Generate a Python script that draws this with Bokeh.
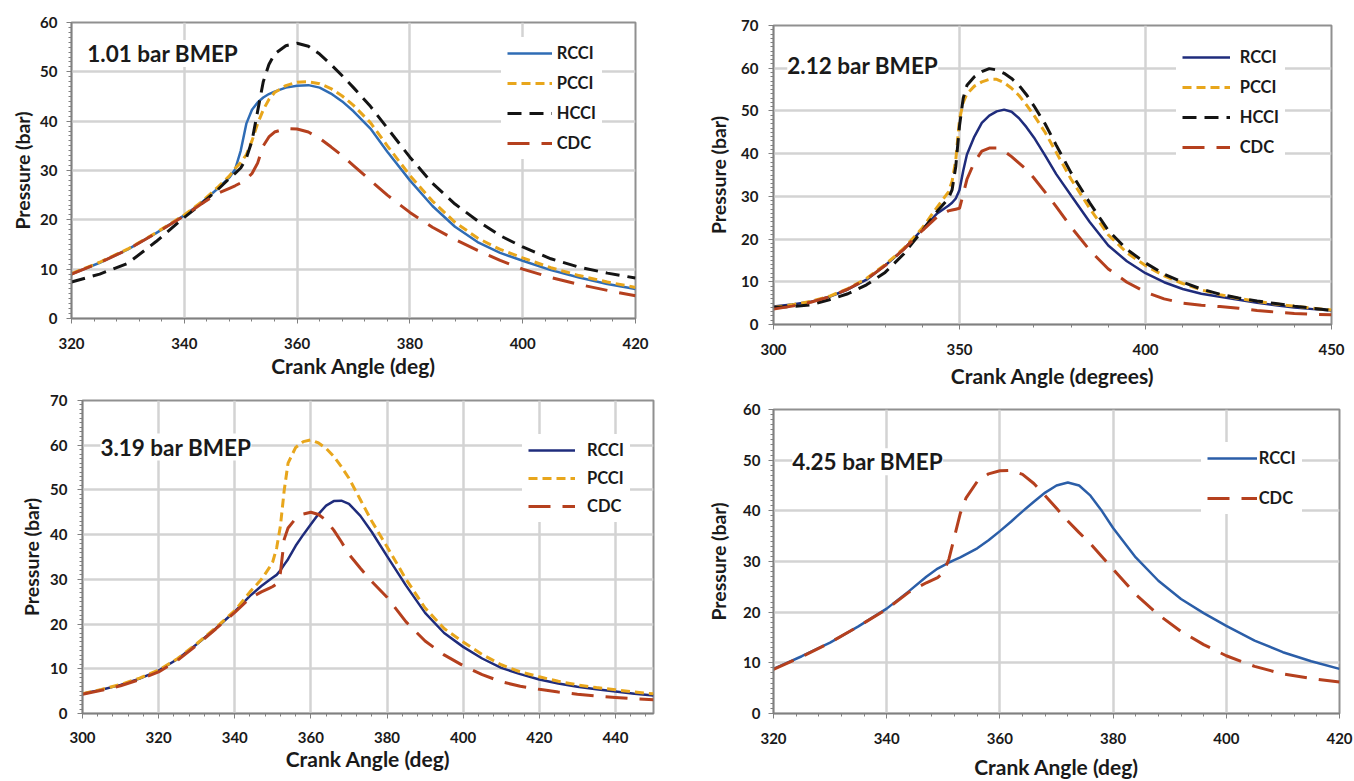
from bokeh.plotting import figure
from bokeh.layouts import row, column
from bokeh.models import SingleIntervalTicker, Legend, LegendItem, Label, Range1d
from bokeh.embed import file_html
from bokeh.resources import INLINE

# ---------------- data ----------------
# Panel 1: 1.01 bar BMEP
p1_angle = [320, 325, 330, 335, 340, 343, 346, 348, 349, 350, 351, 352, 353, 354, 355,
            356, 358, 360, 362, 364, 366, 368, 370, 373, 376, 380, 384, 388, 392, 396,
            400, 405, 410, 415, 420]
p1_rcci = [9.0, 11.3, 14.0, 17.3, 20.9, 23.4, 26.4, 28.6, 30.2, 34.0, 39.5, 42.3, 43.8, 44.8, 45.5,
           46.0, 46.8, 47.2, 47.3, 46.8, 45.6, 44.0, 42.0, 38.5, 33.8, 28.0, 22.8, 18.6, 15.5, 13.3,
           11.7, 9.8, 8.3, 7.0, 6.0]
p1_pcci = [9.1, 11.4, 14.1, 17.4, 21.0, 23.6, 26.7, 28.9, 30.4, 31.6, 33.2, 36.0, 39.5, 42.3, 44.4,
           45.8, 47.2, 47.9, 48.0, 47.6, 46.6, 45.1, 43.2, 39.7, 35.0, 29.0, 23.8, 19.5, 16.3, 14.0,
           12.3, 10.3, 8.7, 7.4, 6.3]
p1_hcci = [7.4, 9.0, 11.2, 15.6, 20.5, 23.2, 26.2, 28.4, 29.4, 30.5, 32.5, 36.0, 42.0, 48.0, 51.5,
           53.6, 55.3, 55.8, 55.2, 53.6, 51.5, 49.2, 46.8, 43.0, 38.6, 32.7, 27.4, 23.2, 19.8, 16.8,
           14.5, 12.1, 10.4, 9.2, 8.2]
p1_cdc = [9.0, 11.3, 14.0, 17.3, 20.8, 23.2, 25.4, 26.4, 26.9, 27.5, 28.2, 29.4, 31.5, 35.0, 36.8,
          37.8, 38.5, 38.4, 37.8, 36.5, 34.8, 33.0, 31.0, 28.0, 25.0, 21.5, 18.5, 16.0, 13.8, 11.8,
          10.0, 8.3, 6.9, 5.7, 4.6]

# Panel 2: 2.12 bar BMEP
p2_angle = [300, 305, 310, 315, 320, 325, 330, 335, 340, 344, 347, 348, 349, 350, 351,
            352, 354, 356, 358, 360, 362, 364, 366, 368, 370, 373, 376, 380, 385, 390,
            395, 400, 405, 410, 415, 420, 425, 430, 435, 440, 445, 450]
p2_rcci = [4.2, 4.7, 5.3, 6.5, 8.2, 10.5, 13.8, 17.6, 22.3, 26.0, 27.8, 28.5, 29.5, 31.5, 36.0,
           39.8, 44.0, 47.2, 48.9, 49.9, 50.3, 49.8, 48.3, 46.2, 43.8, 39.6, 35.2, 30.2, 24.0, 18.5,
           14.8, 12.0, 9.9, 8.3, 7.2, 6.5, 5.8, 5.1, 4.5, 4.0, 3.6, 3.3]
p2_pcci = [4.0, 4.6, 5.4, 6.6, 8.4, 10.8, 14.0, 17.8, 22.6, 27.5, 31.0, 33.5, 38.5, 48.0, 52.0,
           54.0, 55.8, 56.8, 57.4, 57.4, 56.6, 55.3, 53.6, 51.4, 49.0, 45.0, 40.3, 34.0, 27.2, 21.0,
           16.8, 13.8, 11.4, 9.6, 8.1, 7.0, 6.1, 5.4, 4.8, 4.3, 3.8, 3.4]
p2_hcci = [4.0, 4.2, 4.6, 5.8, 7.2, 9.3, 12.2, 16.5, 22.0, 26.5, 29.5, 31.5, 37.0, 46.5, 53.0,
           56.0, 58.0, 59.2, 59.9, 59.6, 58.8, 57.6, 56.0, 53.8, 51.2, 47.0, 42.0, 35.5, 28.5, 22.0,
           17.6, 14.4, 11.8, 9.9, 8.3, 7.1, 6.2, 5.5, 4.9, 4.3, 3.8, 3.3]
p2_cdc = [3.6, 4.3, 5.2, 6.5, 8.3, 10.6, 13.8, 17.6, 22.0, 25.2, 26.6, 26.8, 27.0, 27.2, 30.5,
          34.0, 38.0, 40.6, 41.3, 41.3, 40.6, 39.3, 37.8, 36.3, 34.3, 31.0, 27.6, 22.8, 17.4, 13.0,
          9.9, 7.6, 6.0, 5.0, 4.5, 4.2, 3.8, 3.3, 2.9, 2.6, 2.4, 2.3]

# Panel 3: 3.19 bar BMEP
p3_angle = [300, 305, 310, 315, 320, 325, 330, 335, 340, 344, 347, 349, 350, 351, 352,
            353, 354, 356, 358, 360, 362, 364, 366, 368, 370, 373, 376, 380, 385, 390,
            395, 400, 405, 410, 415, 420, 425, 430, 435, 440, 445, 450]
p3_rcci = [4.4, 5.3, 6.4, 7.8, 9.6, 12.2, 15.5, 19.0, 22.8, 26.3, 28.5, 29.8, 30.4, 31.0, 32.0,
           33.3, 34.5, 37.5, 40.0, 42.3, 44.6, 46.5, 47.5, 47.6, 46.9, 44.2, 40.6, 35.2, 28.6, 22.5,
           18.0, 14.9, 12.3, 10.2, 8.8, 7.6, 6.7, 6.0, 5.4, 4.9, 4.4, 4.0]
p3_pcci = [4.4, 5.4, 6.5, 7.9, 9.7, 12.3, 15.6, 19.2, 23.0, 27.2, 30.0, 32.5, 34.0, 37.0, 42.0,
           50.0, 56.0, 59.5, 60.8, 61.2, 60.5, 59.3, 57.5, 55.2, 52.6, 47.8, 43.0, 37.3, 30.0, 23.6,
           19.0, 16.0, 13.2, 10.9, 9.3, 8.2, 7.2, 6.4, 5.8, 5.3, 4.8, 4.4]
p3_cdc = [4.3, 5.2, 6.2, 7.6, 9.3, 11.9, 15.3, 18.9, 22.6, 25.8, 27.2, 28.0, 28.4, 29.0, 31.5,
          39.0, 41.5, 43.6, 44.6, 45.0, 44.5, 43.2, 41.0, 38.4, 35.6, 32.5, 29.5, 26.0, 20.5, 16.2,
          13.1, 10.7, 8.7, 7.1, 6.1, 5.4, 4.8, 4.3, 3.9, 3.6, 3.3, 3.1]

# Panel 4: 4.25 bar BMEP
p4_angle = [320, 325, 330, 335, 340, 344, 347, 349, 350, 351, 352, 353, 354, 356, 358,
            360, 362, 364, 366, 368, 370, 372, 374, 376, 378, 380, 384, 388, 392, 396,
            400, 405, 410, 415, 420]
p4_rcci = [8.8, 11.3, 14.0, 17.2, 20.7, 24.2, 27.0, 28.6, 29.2, 29.8, 30.3, 30.8, 31.4, 32.6, 34.2,
           36.0, 37.9, 39.9, 41.8, 43.6, 45.0, 45.6, 45.0, 43.0, 40.0, 36.6, 30.8, 26.2, 22.6, 19.8,
           17.3, 14.4, 12.1, 10.3, 8.8]
p4_cdc = [8.7, 11.2, 14.0, 17.2, 20.6, 24.0, 25.8, 26.8, 27.8, 30.5, 35.0, 39.5, 42.5, 45.8, 47.3,
          47.9, 48.0, 47.2, 45.4, 43.0, 40.5, 38.0, 35.7, 33.5, 31.0, 28.5, 23.5, 19.5, 16.2, 13.6,
          11.4, 9.3, 7.8, 6.9, 6.2]

panel_titles = ["1.01 bar BMEP", "2.12 bar BMEP", "3.19 bar BMEP", "4.25 bar BMEP"]
x_titles = ["Crank Angle (deg)", "Crank Angle (degrees)", "Crank Angle (deg)", "Crank Angle (deg)"]

# ---------------- style ----------------
FONT = "Lato"
TXT = "#1a1a1a"
C_PCCI = "#e8a61c"
C_HCCI = "#141414"
C_CDC = "#b5401e"


def make_fig(width, height, borders, xr, ytop, xint, xminor,
             xlab_std, xtitle_std, ylab_std, ytitle_std, xtitle):
    left, right, top, bottom = borders
    p = figure(width=width, height=height, output_backend="svg", toolbar_location=None,
               x_range=Range1d(*xr), y_range=Range1d(0, ytop),
               min_border_left=left, min_border_right=right,
               min_border_top=top, min_border_bottom=bottom)
    p.xaxis.ticker = SingleIntervalTicker(interval=xint, num_minor_ticks=xminor)
    p.yaxis.ticker = SingleIntervalTicker(interval=10, num_minor_ticks=10)
    p.xaxis.axis_label = xtitle
    p.yaxis.axis_label = "Pressure (bar)"
    for ax in (p.xaxis[0], p.yaxis[0]):
        ax.axis_line_color = "#808080"
        ax.axis_line_width = 1.5
        ax.major_tick_line_color = "#808080"
        ax.minor_tick_line_color = "#808080"
        ax.major_tick_out = 5
        ax.major_tick_in = 0
        ax.minor_tick_out = 3
        ax.minor_tick_in = 0
        ax.major_label_text_font = FONT
        ax.major_label_text_font_style = "bold"
        ax.major_label_text_font_size = "15px"
        ax.major_label_text_color = TXT
        ax.axis_label_text_font = FONT
        ax.axis_label_text_font_style = "bold"
        ax.axis_label_text_color = TXT
    p.xaxis.axis_label_text_font_size = "21px"
    p.yaxis.axis_label_text_font_size = "19.5px"
    p.xaxis.major_label_standoff = xlab_std
    p.xaxis.axis_label_standoff = xtitle_std
    p.yaxis.major_label_standoff = ylab_std
    p.yaxis.axis_label_standoff = ytitle_std
    for g in (p.xgrid[0], p.ygrid[0]):
        g.grid_line_color = "#d3d3d3"
        g.grid_line_width = 2.5
    p.outline_line_color = "#909090"
    p.outline_line_width = 2
    p.background_fill_color = "white"
    p.border_fill_color = "white"
    return p


def add_legend(p, items, glyph_left, first_center, pitch, frame_left, frame_bottom,
               glyph_width, standoff, pad=6, h=20):
    n = len(items)
    leg = Legend(items=items)
    leg.padding = pad
    leg.margin = 0
    leg.glyph_height = h
    leg.label_height = h
    leg.glyph_width = glyph_width
    leg.label_standoff = standoff
    leg.spacing = int(round(pitch - h))
    leg.border_line_alpha = 0
    leg.background_fill_color = "white"
    leg.background_fill_alpha = 1
    leg.label_text_font = FONT
    leg.label_text_font_style = "bold"
    leg.label_text_font_size = "16.5px"
    leg.label_text_color = TXT
    top = first_center - h / 2 - pad
    height = n * h + (n - 1) * leg.spacing + 2 * pad
    leg.location = (glyph_left - pad - frame_left, frame_bottom - (top + height))
    p.add_layout(leg)


def add_title(p, x, y, text):
    p.add_layout(Label(x=x, y=y, text=text, text_font=FONT, text_font_style="bold",
                       text_font_size="22.5px", text_color=TXT, text_baseline="middle",
                       background_fill_color="white", background_fill_alpha=1))


# ---------------- panel 1 ----------------
p1 = make_fig(677, 390, (71, 42, 22, 72), (320, 420), 60, 20, 5, 14, 1, 9, 3, x_titles[0])
r1 = p1.line(p1_angle, p1_rcci, line_color="#2f6cb5", line_width=2.5)
r2 = p1.line(p1_angle, p1_pcci, line_color=C_PCCI, line_width=3, line_dash="9 5")
r3 = p1.line(p1_angle, p1_hcci, line_color=C_HCCI, line_width=3, line_dash="14 8")
r4 = p1.line(p1_angle, p1_cdc, line_color=C_CDC, line_width=3, line_dash="22 12")
add_legend(p1, [LegendItem(label="RCCI", renderers=[r1]), LegendItem(label="PCCI", renderers=[r2]),
                LegendItem(label="HCCI", renderers=[r3]), LegendItem(label="CDC", renderers=[r4])],
           506.7, 53.3, 29.5, 71, 318, 45, 5)
add_title(p1, 322.8, 53.7, panel_titles[0])

# ---------------- panel 2 ----------------
p2 = make_fig(677, 390, (96, 23, 25, 65), (300, 450), 70, 50, 5, 14, 5, 10, 8, x_titles[1])
s1 = p2.line(p2_angle, p2_rcci, line_color="#1f2c7c", line_width=2.5)
s2 = p2.line(p2_angle, p2_pcci, line_color=C_PCCI, line_width=3, line_dash="9 5")
s3 = p2.line(p2_angle, p2_hcci, line_color=C_HCCI, line_width=3, line_dash="14 8")
s4 = p2.line(p2_angle, p2_cdc, line_color=C_CDC, line_width=3, line_dash="22 12")
add_legend(p2, [LegendItem(label="RCCI", renderers=[s1]), LegendItem(label="PCCI", renderers=[s2]),
                LegendItem(label="HCCI", renderers=[s3]), LegendItem(label="CDC", renderers=[s4])],
           1181.7, 58.3, 29.5, 773, 325, 48, 10)
add_title(p2, 303.7, 60.7, panel_titles[1])

# ---------------- panel 3 ----------------
p3 = make_fig(677, 391, (82, 24, 10, 68), (300, 450), 70, 20, 5, 13, 0, 10, 4, x_titles[2])
t1 = p3.line(p3_angle, p3_rcci, line_color="#1f2c7c", line_width=2.5)
t2 = p3.line(p3_angle, p3_pcci, line_color=C_PCCI, line_width=3, line_dash="9 5")
t3 = p3.line(p3_angle, p3_cdc, line_color=C_CDC, line_width=3, line_dash="22 12")
add_legend(p3, [LegendItem(label="RCCI", renderers=[t1]), LegendItem(label="PCCI", renderers=[t2]),
                LegendItem(label="CDC", renderers=[t3])],
           528, 450, 28.3, 82, 713, 47, 12)
add_title(p3, 304.7, 59.6, panel_titles[2])

# ---------------- panel 4 ----------------
p4 = make_fig(677, 391, (96, 15, 19, 66), (320, 420), 60, 20, 5, 14, 7, 8, 10, x_titles[3])
u1 = p4.line(p4_angle, p4_rcci, line_color="#2b5ea8", line_width=2.5)
u2 = p4.line(p4_angle, p4_cdc, line_color=C_CDC, line_width=3, line_dash="22 12")
add_legend(p4, [LegendItem(label="RCCI", renderers=[u1]), LegendItem(label="CDC", renderers=[u2])],
           1206.7, 460, 40, 773, 715, 50, 2)
add_title(p4, 323.3, 49.7, panel_titles[3])

# each plot wrapped separately so that the frames are not forced to align
layout = row(column(row(p1), row(p3)), column(row(p2), row(p4)))
open("out.html", "w").write(file_html(layout, INLINE))
